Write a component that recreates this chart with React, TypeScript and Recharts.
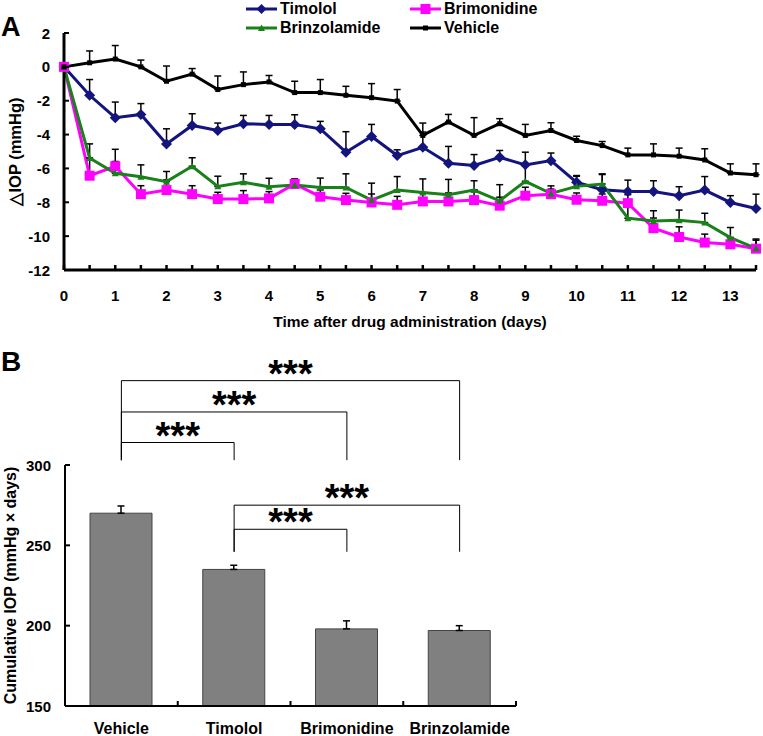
import React from 'react';
import { LineChart, Line, BarChart, Bar, XAxis, YAxis, ErrorBar, ReferenceLine, Label } from 'recharts';

const FONT = 'Arial, "Liberation Sans", Helvetica, sans-serif';

// panel A: change of IOP per half day
const days = [0, 0.5, 1, 1.5, 2, 2.5, 3, 3.5, 4, 4.5, 5, 5.5, 6, 6.5, 7, 7.5, 8, 8.5, 9, 9.5, 10, 10.5, 11, 11.5, 12, 12.5, 13, 13.5];
const timolol = [0, -1.68, -3.0, -2.81, -4.55, -3.46, -3.76, -3.36, -3.4, -3.4, -3.66, -5.04, -4.11, -5.24, -4.75, -5.7, -5.83, -5.34, -5.79, -5.54, -6.82, -7.26, -7.36, -7.36, -7.61, -7.28, -8.01, -8.37];
const timololErr = [0, 0.93, 0.92, 0.64, 0.89, 0.69, 0.44, 0.49, 0.53, 0.57, 0.44, 1.21, 0.71, 0.34, 0.9, 1.0, 0.65, 0.4, 0.75, 0.45, 0.4, 0.9, 0.67, 0.63, 0.53, 0.8, 0.4, 0.85];
const brimonidine = [0, -6.43, -5.87, -7.52, -7.28, -7.52, -7.81, -7.81, -7.77, -6.92, -7.67, -7.87, -8.01, -8.15, -7.95, -7.95, -7.87, -8.2, -7.61, -7.52, -7.85, -7.91, -8.05, -9.53, -10.05, -10.38, -10.48, -10.74];
const brimonidineErr = [0, 1.0, 1.0, 0.5, 0.6, 0.5, 0.4, 0.5, 0.4, 0.3, 0.4, 0.4, 0.5, 0.5, 0.5, 0.5, 0.6, 0.5, 0.5, 0.3, 0.4, 0.4, 0.5, 0.6, 0.6, 0.5, 0.4, 0.5];
const brinzolamide = [0, -5.38, -6.29, -6.49, -6.78, -5.87, -7.06, -6.82, -7.08, -6.98, -7.12, -7.12, -7.87, -7.28, -7.42, -7.55, -7.28, -7.91, -6.76, -7.48, -7.06, -6.92, -8.94, -9.1, -9.06, -9.2, -10.09, -10.72];
const brinzolamideErr = [0, 0.83, 0.7, 0.7, 0.6, 0.5, 0.6, 0.5, 0.5, 0.3, 0.55, 0.8, 1.0, 0.8, 0.8, 0.9, 0.55, 0.95, 0.9, 0.45, 0.6, 0.6, 0.8, 0.6, 0.6, 0.55, 0.6, 0.55];
const vehicle = [0, 0.24, 0.46, 0, -0.85, -0.43, -1.34, -1.05, -0.89, -1.52, -1.52, -1.68, -1.82, -2.02, -4.05, -3.26, -4.05, -3.36, -4.05, -3.76, -4.35, -4.65, -5.2, -5.2, -5.28, -5.5, -6.27, -6.37];
const vehicleErr = [0, 0.7, 0.8, 0.4, 0.9, 0.33, 0.8, 0.75, 0.38, 0.67, 0.77, 0.53, 0.83, 0.68, 0.73, 0.45, 1.05, 0.3, 0.65, 0.46, 0.25, 0.24, 0.4, 0.65, 0.48, 0.66, 0.54, 0.64];
const iopTicks = [-12, -10, -8, -6, -4, -2, 0, 2];

// panel B: cumulative IOP
const groups = ['Vehicle', 'Timolol', 'Brimonidine', 'Brinzolamide'];
const cumulative = [270, 235, 198, 197];
const cumulativeErr = [4.5, 2.6, 5, 3];
const cumTicks = [150, 200, 250, 300];

const comparisons = [
  { from: 'Vehicle', to: 'Timolol', top: 314, base: 303 },
  { from: 'Vehicle', to: 'Brimonidine', top: 333, base: 303 },
  { from: 'Vehicle', to: 'Brinzolamide', top: 352.5, base: 303 },
  { from: 'Timolol', to: 'Brinzolamide', top: 275, base: 246 },
  { from: 'Timolol', to: 'Brimonidine', top: 260, base: 246 },
];

const lineData = days.map((day, i) => ({
  day,
  timolol: timolol[i],
  timololErr: [0, timololErr[i]],
  brimonidine: brimonidine[i],
  brimonidineErr: [0, brimonidineErr[i]],
  brinzolamide: brinzolamide[i],
  brinzolamideErr: [0, brinzolamideErr[i]],
  vehicle: vehicle[i],
  vehicleErr: [0, vehicleErr[i]],
}));

const barData = groups.map((name, i) => ({ name, value: cumulative[i], err: [0, cumulativeErr[i]] }));

const BLUE = '#14147f';
const MAGENTA = '#ff00ff';
const GREEN = '#1a801a';

const diamondDot = (p: any) => {
  const { cx, cy, index } = p;
  if (cx == null || cy == null) return <g key={index} />;
  return <path key={index} d={`M${cx},${cy - 5.5}L${cx + 5.5},${cy}L${cx},${cy + 5.5}L${cx - 5.5},${cy}Z`} fill={BLUE} />;
};
const squareDot = (size: number, color: string) => (p: any) => {
  const { cx, cy, index } = p;
  if (cx == null || cy == null) return <g key={index} />;
  return <rect key={index} x={cx - size / 2} y={cy - size / 2} width={size} height={size} fill={color} />;
};
const triangleDot = (p: any) => {
  const { cx, cy, index } = p;
  if (cx == null || cy == null) return <g key={index} />;
  return <path key={index} d={`M${cx},${cy - 3.5}L${cx + 3.5},${cy + 3}L${cx - 3.5},${cy + 3}Z`} fill={GREEN} />;
};

const DayTick = (props: any) => {
  const { x, y, payload } = props;
  const v = payload.value;
  return (
    <g>
      <line x1={x} x2={x} y1={y} y2={y - 5} stroke="#000" strokeWidth={2.5} />
      {Number.isInteger(v) && (
        <text x={x} y={y + 25} textAnchor="middle" dominantBaseline="central" fontSize={15} fontWeight="bold" fill="#000" fontFamily={FONT}>
          {v}
        </text>
      )}
    </g>
  );
};

const LeftTick = (props: any) => {
  const { x, y, payload } = props;
  return (
    <g>
      <line x1={x} x2={x + 5} y1={y} y2={y} stroke="#000" strokeWidth={2} />
      <text x={x - 14} y={y} textAnchor="end" dominantBaseline="central" fontSize={15} fontWeight="bold" fill="#000" fontFamily={FONT}>
        {payload.value}
      </text>
    </g>
  );
};

const GroupTick = (props: any) => {
  const { x, y, payload } = props;
  const half = payload.offset || 56.4;
  return (
    <g>
      <line x1={x + half} x2={x + half} y1={y} y2={y - 5} stroke="#000" strokeWidth={2} />
      <text x={x} y={y + 22} textAnchor="middle" dominantBaseline="central" fontSize={16} fontWeight="bold" fill="#000" fontFamily={FONT}>
        {payload.value}
      </text>
    </g>
  );
};

const verticalTitle = (text: string, x: number, size: number) => (props: any) => {
  const vb = props.viewBox;
  const cy = vb.y + vb.height / 2;
  return (
    <text x={x} y={cy} transform={`rotate(-90 ${x} ${cy})`} textAnchor="middle" dominantBaseline="central" fontSize={size} fontWeight="bold" fill="#000" fontFamily={FONT}>
      {text}
    </text>
  );
};

const stars = (props: any) => {
  const vb = props.viewBox;
  return (
    <text x={vb.x + vb.width / 2} y={vb.y + 6} textAnchor="middle" fontSize={38} fontWeight="bold" fill="#000" fontFamily={FONT}>
      ***
    </text>
  );
};

const legendItems = [
  { label: 'Timolol', color: BLUE, marker: 'diamond', left: 246, top: 0 },
  { label: 'Brimonidine', color: MAGENTA, marker: 'square', left: 410, top: 0 },
  { label: 'Brinzolamide', color: GREEN, marker: 'triangle', left: 246, top: 18.5 },
  { label: 'Vehicle', color: '#000', marker: 'small', left: 410, top: 18.5 },
];

const LegendIcon = ({ color, marker }: { color: string; marker: string }) => (
  <svg width={31} height={14} style={{ display: 'block' }}>
    <line x1={0} x2={31} y1={7} y2={7} stroke={color} strokeWidth={3} />
    {marker === 'diamond' && <path d="M15.5,2L20.5,7L15.5,12L10.5,7Z" fill={color} />}
    {marker === 'square' && <rect x={10.5} y={2} width={10} height={10} fill={color} />}
    {marker === 'triangle' && <path d="M15.5,3.5L19,10L12,10Z" fill={color} />}
    {marker === 'small' && <rect x={13} y={4.5} width={5} height={5} fill={color} />}
  </svg>
);

export default function App() {
  return (
    <div style={{ position: 'absolute', left: 0, top: 0, width: 763, height: 736, background: '#fff', fontFamily: FONT, overflow: 'hidden' }}>
      <div style={{ position: 'absolute', left: 1, top: 12, fontSize: 27, fontWeight: 'bold' }}>A</div>
      <div style={{ position: 'absolute', left: 1, top: 346, fontSize: 28, fontWeight: 'bold' }}>B</div>

      {legendItems.map((it) => (
        <div key={it.label} style={{ position: 'absolute', left: it.left, top: it.top, height: 18, display: 'flex', alignItems: 'center', fontSize: 16, fontWeight: 'bold', lineHeight: '18px' }}>
          <LegendIcon color={it.color} marker={it.marker} />
          <span style={{ marginLeft: 3 }}>{it.label}</span>
        </div>
      ))}

      <div style={{ position: 'absolute', left: 0, top: 0 }}>
        <LineChart width={763} height={340} data={lineData} margin={{ top: 33, right: 7, left: 0, bottom: 10 }}>
          <XAxis
            type="number"
            dataKey="day"
            domain={[0, 13.5]}
            ticks={days}
            interval={0}
            height={60}
            tickSize={0}
            tickMargin={0}
            tick={<DayTick />}
            axisLine={{ stroke: '#000', strokeWidth: 3 }}
            tickLine={false}
          >
            <Label value="Time after drug administration (days)" position="insideBottom" offset={3} fontSize={15.5} fontWeight="bold" fill="#000" fontFamily={FONT} />
          </XAxis>
          <YAxis
            domain={[-12, 2]}
            ticks={iopTicks}
            interval={0}
            width={64}
            tickSize={0}
            tickMargin={0}
            tick={<LeftTick />}
            axisLine={{ stroke: '#000', strokeWidth: 3 }}
            tickLine={false}
          >
            <Label content={verticalTitle('△IOP (mmHg)', 15, 16.5)} />
          </YAxis>
          <Line dataKey="timolol" stroke={BLUE} strokeWidth={3} dot={diamondDot} isAnimationActive={false}>
            <ErrorBar dataKey="timololErr" direction="y" width={3.5} stroke="#000" strokeWidth={1.5} />
          </Line>
          <Line dataKey="brimonidine" stroke={MAGENTA} strokeWidth={3} dot={squareDot(10, MAGENTA)} isAnimationActive={false}>
            <ErrorBar dataKey="brimonidineErr" direction="y" width={3.5} stroke="#000" strokeWidth={1.5} />
          </Line>
          <Line dataKey="brinzolamide" stroke={GREEN} strokeWidth={3} dot={triangleDot} isAnimationActive={false}>
            <ErrorBar dataKey="brinzolamideErr" direction="y" width={3.5} stroke="#000" strokeWidth={1.5} />
          </Line>
          <Line dataKey="vehicle" stroke="#000" strokeWidth={3} dot={squareDot(5, '#000')} isAnimationActive={false}>
            <ErrorBar dataKey="vehicleErr" direction="y" width={3.5} stroke="#000" strokeWidth={1.5} />
          </Line>
        </LineChart>
      </div>

      <div style={{ position: 'absolute', left: 0, top: 330 }}>
        <BarChart width={540} height={406} data={barData} margin={{ top: 135, right: 24, left: 0, bottom: 0 }} style={{ overflow: 'visible' }}>
          <XAxis
            dataKey="name"
            height={30}
            tickSize={0}
            tickMargin={0}
            tick={<GroupTick />}
            axisLine={{ stroke: '#000', strokeWidth: 2 }}
            tickLine={false}
            interval={0}
          />
          <YAxis
            domain={[150, 300]}
            ticks={cumTicks}
            interval={0}
            width={65}
            tickSize={0}
            tickMargin={0}
            tick={<LeftTick />}
            axisLine={{ stroke: '#000', strokeWidth: 2 }}
            tickLine={false}
            allowDataOverflow
          >
            <Label content={verticalTitle('Cumulative IOP (mmHg × days)', 10, 16)} />
          </YAxis>
          <Bar dataKey="value" fill="#808080" stroke="#444" strokeWidth={1} barSize={62} isAnimationActive={false}>
            <ErrorBar dataKey="err" direction="y" width={3.5} stroke="#000" strokeWidth={1.5} />
          </Bar>
          {comparisons.map((c, i) => (
            <React.Fragment key={i}>
              <ReferenceLine segment={[{ x: c.from, y: c.base }, { x: c.from, y: c.top }]} stroke="#000" strokeWidth={1} ifOverflow="visible" />
              <ReferenceLine segment={[{ x: c.from, y: c.top }, { x: c.to, y: c.top }]} stroke="#000" strokeWidth={1} ifOverflow="visible">
                <Label content={stars} />
              </ReferenceLine>
              <ReferenceLine segment={[{ x: c.to, y: c.top }, { x: c.to, y: c.base }]} stroke="#000" strokeWidth={1} ifOverflow="visible" />
            </React.Fragment>
          ))}
        </BarChart>
      </div>
    </div>
  );
}
